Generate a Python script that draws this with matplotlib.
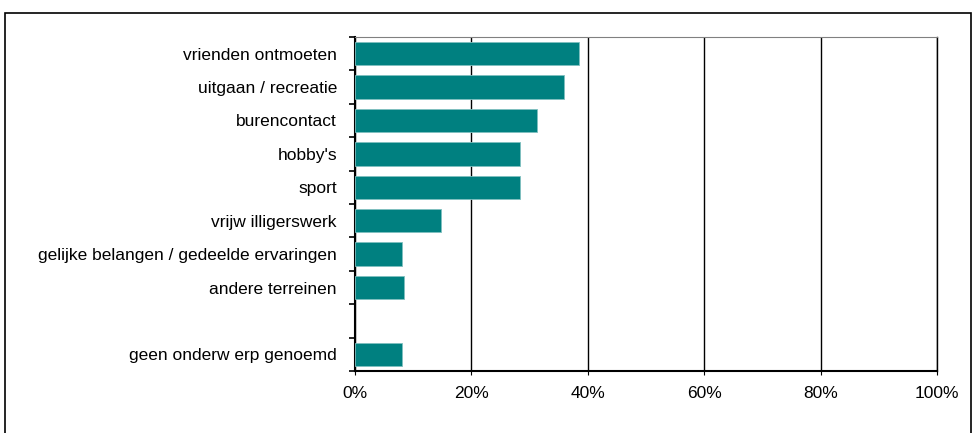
import numpy as np
import matplotlib.pyplot as plt
from matplotlib.patches import Rectangle

categories = ['vrienden ontmoeten', 'uitgaan / recreatie', 'burencontact', "hobby's",
              'sport', 'vrijw illigerswerk', 'gelijke belangen / gedeelde ervaringen',
              'andere terreinen', '', 'geen onderw erp genoemd']
values = [38.5, 35.9, 31.3, 28.3, 28.3, 14.7, 8.1, 8.4, np.nan, 8.1]
xticks = [0, 20, 40, 60, 80, 100]


def main():
    plt.rcParams['font.family'] = ['Liberation Sans', 'DejaVu Sans']
    fig = plt.figure(figsize=(9.74, 4.33), dpi=100)
    ax = fig.add_axes([355 / 974, 1 - 371 / 433, (937 - 355) / 974, (371 - 37) / 433])

    # outer frame
    fig.patches.append(Rectangle((5 / 974, -0.01), (971 - 5) / 974, 1 - 13 / 433 + 0.01,
                                 transform=fig.transFigure, fill=False,
                                 edgecolor='black', linewidth=1.2))

    y = np.arange(len(categories))
    ax.barh(y, values, height=0.7, color='#008080', edgecolor='#80c0c0', linewidth=0.6, zorder=3)

    ax.set_xlim(0, 100)
    ax.set_ylim(len(categories) - 0.5, -0.5)
    ax.set_xticks(xticks)
    ax.set_xticklabels([f'{t}%' for t in xticks], fontsize=12.5)
    ax.xaxis.grid(True, color='black', linewidth=1.0, zorder=1)
    ax.tick_params(axis='x', length=3, direction='out', pad=8)

    ax.set_yticks(y)
    ax.set_yticklabels(categories, fontsize=12.5)
    ax.tick_params(axis='y', length=0, pad=13)
    ax.set_yticks(np.arange(len(categories) + 1) - 0.5, minor=True)
    ax.tick_params(axis='y', which='minor', length=4, direction='out', width=1.2)

    for s in ['left', 'bottom']:
        ax.spines[s].set_linewidth(1.5)
    ax.spines['top'].set_color('#808080')
    ax.spines['right'].set_color('black')
    ax.spines['right'].set_linewidth(1.0)

    plt.savefig('out.png', dpi=100)


if __name__ == '__main__':
    main()
